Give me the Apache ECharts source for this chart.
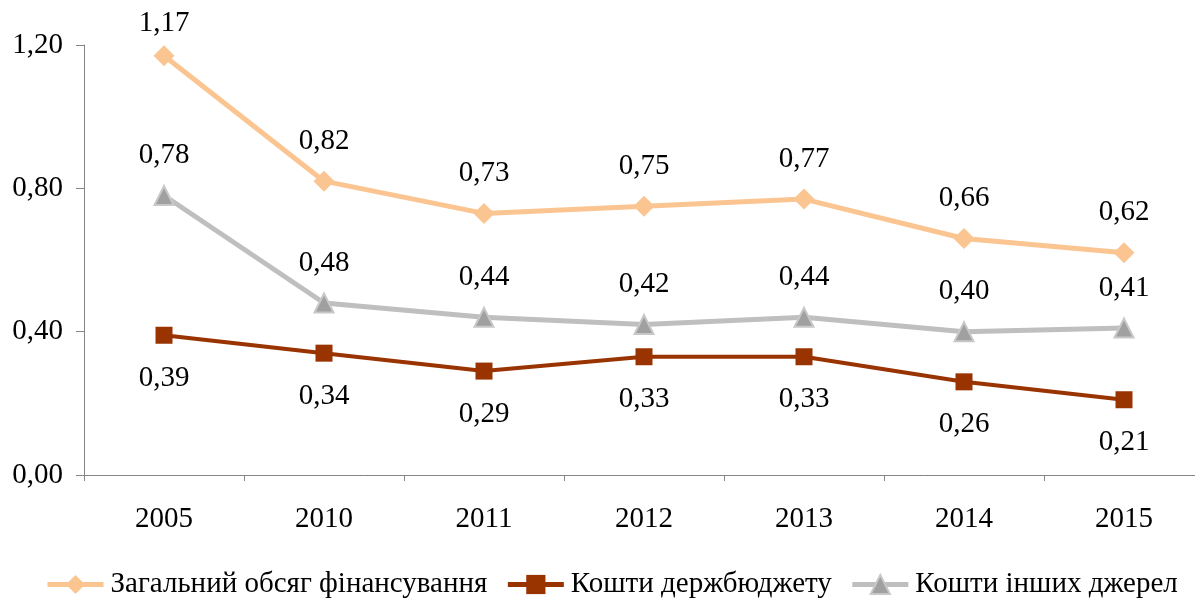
<!DOCTYPE html>
<html>
<head>
<meta charset="utf-8">
<script src="https://cdn.jsdelivr.net/npm/echarts@6.0.0/dist/echarts.min.js"></script>
<style>
  html, body { margin: 0; padding: 0; background: #fff; overflow: hidden; }
  /* plot area runs slightly past the right edge of the window, like the original */
  #chart { width: 1204px; height: 598px; }
</style>
</head>
<body>
<div id="chart"></div>
<script>
  const years = ['2005', '2010', '2011', '2012', '2013', '2014', '2015'];
  const totalFunding = [1.17, 0.82, 0.73, 0.75, 0.77, 0.66, 0.62];
  const stateBudget = [0.39, 0.34, 0.29, 0.33, 0.33, 0.26, 0.21];
  const otherSources = [0.78, 0.48, 0.44, 0.42, 0.44, 0.40, 0.41];

  const FONT = "'Liberation Serif', 'Times New Roman', serif";
  const FS = 29;
  const fmt = v => v.toFixed(2).replace('.', ',');

  // the top point's label sits closer to its marker (no room above the plot)
  const totalData = totalFunding.map((v, i) =>
    i === 0 ? { value: v, label: { distance: 7 } } : v);

  const chart = echarts.init(document.getElementById('chart'));
  chart.setOption({
    animation: false,
    textStyle: { fontFamily: FONT, color: '#000' },
    grid: { left: 84, top: 45, right: 0, bottom: 123 },
    legend: {
      left: 40, top: 565,
      itemWidth: 56, itemHeight: 24, itemGap: 18,
      lineStyle: { width: 5 },
      textStyle: { fontFamily: FONT, fontSize: FS, color: '#000', padding: [0, 0, 0, 2] }
    },
    xAxis: {
      type: 'category',
      data: years,
      axisLine: { lineStyle: { color: '#868686', width: 1 } },
      axisTick: { show: true, length: 6, lineStyle: { color: '#868686' } },
      axisLabel: { fontFamily: FONT, fontSize: FS, color: '#000', margin: 30 }
    },
    yAxis: {
      type: 'value',
      min: 0, max: 1.2, interval: 0.4,
      splitLine: { show: false },
      axisLine: { show: true, lineStyle: { color: '#868686', width: 1 } },
      axisTick: { show: true, length: 8, lineStyle: { color: '#868686' } },
      axisLabel: { fontFamily: FONT, fontSize: FS, color: '#000', margin: 21, formatter: fmt }
    },
    series: [
      {
        name: 'Загальний обсяг фінансування',
        type: 'line',
        data: totalData,
        symbol: 'diamond', symbolSize: 21,
        lineStyle: { color: '#FBC592', width: 5 },
        itemStyle: { color: '#FBC592' },
        label: { show: true, position: 'top', distance: 15, fontFamily: FONT, fontSize: FS, color: '#000', formatter: p => fmt(p.value) }
      },
      {
        name: 'Кошти держбюджету',
        type: 'line',
        data: stateBudget,
        symbol: 'rect', symbolSize: 17,
        lineStyle: { color: '#993300', width: 4 },
        itemStyle: { color: '#993300' },
        label: { show: true, position: 'bottom', distance: 20, fontFamily: FONT, fontSize: FS, color: '#000', formatter: p => fmt(p.value) }
      },
      {
        name: 'Кошти інших джерел',
        type: 'line',
        data: otherSources,
        symbol: 'triangle', symbolSize: 19,
        lineStyle: { color: '#BFBFBF', width: 5 },
        itemStyle: { color: '#A0A0A0', borderColor: '#C8C8C8', borderWidth: 2 },
        label: { show: true, position: 'top', distance: 15, fontFamily: FONT, fontSize: FS, color: '#000', formatter: p => fmt(p.value) }
      }
    ]
  });
</script>
</body>
</html>
